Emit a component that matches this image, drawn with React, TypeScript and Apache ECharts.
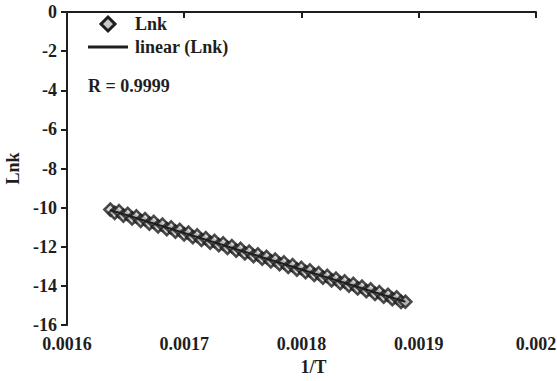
import React, { useEffect, useRef } from "react";
import * as echarts from "echarts";

const invT = [
  0.001637, 0.0016407, 0.0016444, 0.0016481, 0.0016518, 0.0016555, 0.0016592, 0.0016629, 0.0016666, 0.0016703,
  0.001674, 0.0016777, 0.0016814, 0.0016851, 0.0016888, 0.0016925, 0.0016962, 0.0016999, 0.0017036, 0.0017073,
  0.001711, 0.0017147, 0.0017184, 0.0017221, 0.0017258, 0.0017295, 0.0017332, 0.0017369, 0.0017406, 0.0017443,
  0.001748, 0.0017517, 0.0017554, 0.0017591, 0.0017628, 0.0017665, 0.0017702, 0.0017739, 0.0017776, 0.0017813,
  0.001785, 0.0017887, 0.0017924, 0.0017961, 0.0017998, 0.0018035, 0.0018072, 0.0018109, 0.0018146, 0.0018183,
  0.001822, 0.0018257, 0.0018294, 0.0018331, 0.0018368, 0.0018405, 0.0018442, 0.0018479, 0.0018516, 0.0018553,
  0.001859, 0.0018627, 0.0018664, 0.0018701, 0.0018738, 0.0018775, 0.0018812, 0.0018849, 0.0018886,
];
const lnk = [
  -10.1, -10.27, -10.18, -10.41, -10.32, -10.55, -10.45, -10.68, -10.59, -10.82,
  -10.73, -10.96, -10.87, -11.1, -11.01, -11.23, -11.14, -11.37, -11.28, -11.51,
  -11.42, -11.65, -11.56, -11.79, -11.7, -11.92, -11.83, -12.06, -11.97, -12.2,
  -12.11, -12.34, -12.25, -12.48, -12.39, -12.61, -12.52, -12.75, -12.66, -12.89,
  -12.8, -13.03, -12.94, -13.17, -13.08, -13.3, -13.21, -13.44, -13.35, -13.58,
  -13.49, -13.72, -13.63, -13.86, -13.77, -13.99, -13.9, -14.13, -14.04, -14.27,
  -14.18, -14.41, -14.32, -14.55, -14.46, -14.68, -14.59, -14.82, -14.81,
];
const fitX = [0.001637, 0.0018886];
const fitY = [-10.12, -14.81];
const xTicks = [0.0016, 0.0017, 0.0018, 0.0019, 0.002];
const yTicks = [0, -2, -4, -6, -8, -10, -12, -14, -16];
const legendNames = ["Lnk", "linear (Lnk)"];
const rText = "R = 0.9999";

const FONT = "Liberation Serif";
const INK = "#1e1e1e";
const FS = 18;

export default function App() {
  const ref = useRef<HTMLDivElement>(null);
  useEffect(() => {
    if (!ref.current) return;
    const chart = echarts.init(ref.current, null, { renderer: "svg" });
    const scatterData = invT.map((x, i) => [x, lnk[i]]);
    const fitData = fitX.map((x, i) => [x, fitY[i]]);
    const txt = (x: number, y: number, text: string) => ({
      type: "text",
      x,
      y,
      style: {
        text,
        fontFamily: FONT,
        fontSize: FS,
        fontWeight: "bold",
        fill: INK,
        verticalAlign: "middle",
      },
    });
    const labelStyle = {
      fontFamily: FONT,
      fontSize: FS,
      fontWeight: "bold" as const,
      color: INK,
    };
    chart.setOption({
      animation: false,
      backgroundColor: "#fff",
      textStyle: { fontFamily: FONT },
      grid: {
        left: 67,
        right: 21,
        top: 12,
        bottom: 56,
        containLabel: false,
        outerBoundsMode: "none",
      },
      graphic: [
        {
          type: "polygon",
          shape: { points: [[108, 17], [115, 24], [108, 31], [101, 24]] },
          style: { fill: "#c8c8c8", stroke: INK, lineWidth: 3 },
        },
        {
          type: "line",
          shape: { x1: 88, y1: 47, x2: 128, y2: 47 },
          style: { stroke: INK, lineWidth: 3 },
        },
        txt(135, 24, legendNames[0]),
        txt(135, 47, legendNames[1]),
        txt(88, 86, rText),
      ],
      xAxis: {
        type: "value",
        min: xTicks[0],
        max: xTicks[xTicks.length - 1],
        interval: 0.0001,
        name: "1/T",
        nameLocation: "middle",
        nameGap: 32,
        nameTextStyle: { ...labelStyle, padding: [0, 0, 0, 24] },
        axisLine: { lineStyle: { color: INK, width: 2 } },
        axisTick: { show: true, length: 6, lineStyle: { color: INK, width: 2 } },
        axisLabel: {
          ...labelStyle,
          margin: 10,
          formatter: (v: number) => String(parseFloat(v.toFixed(4))),
        },
        splitLine: { show: false },
      },
      yAxis: {
        type: "value",
        min: yTicks[yTicks.length - 1],
        max: yTicks[0],
        interval: 2,
        name: "Lnk",
        nameLocation: "middle",
        nameGap: 42,
        nameRotate: 90,
        nameTextStyle: labelStyle,
        axisLine: { show: true, lineStyle: { color: INK, width: 2 } },
        axisTick: { show: true, length: 6, lineStyle: { color: INK, width: 2 } },
        axisLabel: { ...labelStyle, margin: 10 },
        splitLine: { show: false },
      },
      series: [
        {
          name: legendNames[0],
          type: "scatter",
          data: scatterData,
          symbol: "diamond",
          symbolSize: 12,
          itemStyle: { color: "#cfcfcf", borderColor: INK, borderWidth: 2.6 },
          z: 2,
        },
        {
          name: legendNames[1],
          type: "line",
          data: fitData,
          symbol: "none",
          showSymbol: false,
          lineStyle: { color: INK, width: 2 },
          z: 3,
        },
      ],
    });
    return () => chart.dispose();
  }, []);
  return (
    <div
      ref={ref}
      style={{ position: "absolute", left: 0, top: 0, width: 557, height: 381 }}
    />
  );
}
